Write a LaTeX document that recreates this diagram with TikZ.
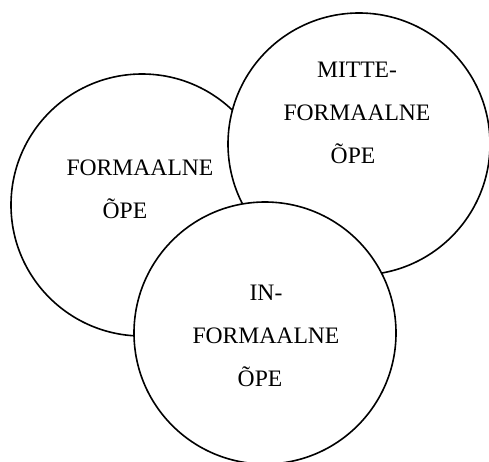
\documentclass[tikz,border=0pt]{standalone}
\usepackage{fontspec}
\setmainfont{Liberation Serif}
\usetikzlibrary{positioning}
\tikzset{ring/.style={draw, circle, fill=white, line width=1.6pt,
                      minimum size=262pt, inner sep=0pt},
         caption/.style={align=center, inner sep=0pt,
                         font=\fontsize{23.6}{43}\selectfont}}

\begin{document}
\begin{tikzpicture}[x=1pt,y=-1pt]
       \useasboundingbox (0,0) rectangle (489,461);
       \node at (142,205) [ring] (F) {};
       \node at (359,144) [ring] (M) {};
       \node at (265,333) [ring] (I) {};
       \node at (140,189) [caption] (Ft) {FORMAALNE\\ÕPE\hspace*{30pt}};
       \node at (357,113) [caption] (Mt) {MITTE-\\FORMAALNE\\ÕPE\hspace*{8pt}};
       \node at (266,336) [caption] (It) {IN-\\FORMAALNE\\ÕPE\hspace*{12pt}};
      \end{tikzpicture}
\end{document}
